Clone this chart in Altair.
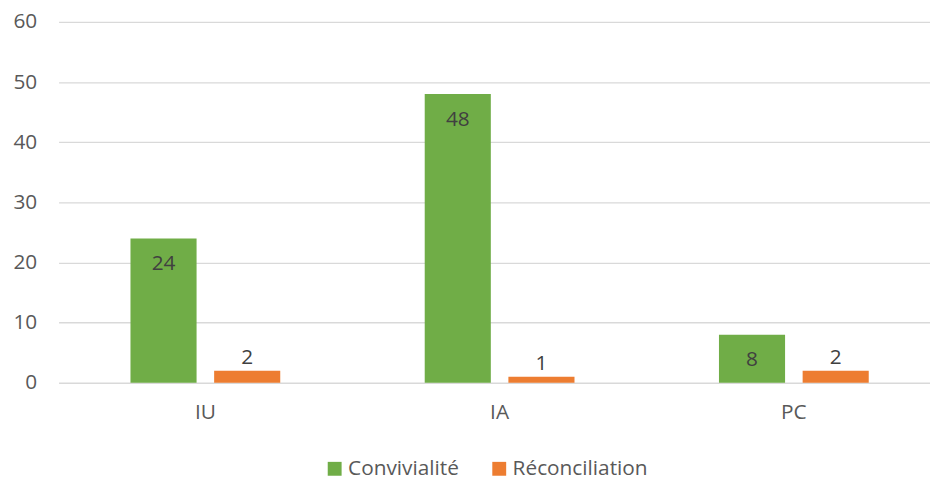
import altair as alt
import pandas as pd

categories = ["IU", "IA", "PC"]
series = ["Convivialité", "Réconciliation"]
convivialite = [24, 48, 8]
reconciliation = [2, 1, 2]
y_ticks = [0, 10, 20, 30, 40, 50, 60]
colors = ["#70AD47", "#ED7D31"]

rows = []
for c, v in zip(categories, convivialite):
    rows.append({"cat": c, "serie": series[0], "val": v})
for c, v in zip(categories, reconciliation):
    rows.append({"cat": c, "serie": series[1], "val": v})
df = pd.DataFrame(rows)

FONT = "Open Sans"
FS = 21

x = alt.X("cat:N", sort=categories, title=None,
          scale=alt.Scale(paddingInner=0.491, paddingOuter=0.2263, align=0.54),
          axis=alt.Axis(labelAngle=0, domain=False, ticks=False, labelPadding=19,
                        labelFontSize=FS, labelColor="#595959", labelFont=FONT, grid=False))
xo = alt.XOffset("serie:N", sort=series, scale=alt.Scale(paddingInner=0.21, paddingOuter=0))
y = alt.Y("val:Q", title=None,
          scale=alt.Scale(domain=[0, 60], nice=False),
          axis=alt.Axis(values=y_ticks, domain=False, ticks=False, labelPadding=22,
                        labelFontSize=FS, labelColor="#595959", labelFont=FONT,
                        gridColor="#D9D9D9", gridWidth=1.4))
color = alt.Color("serie:N", sort=series, title=None,
                  scale=alt.Scale(domain=series, range=colors),
                  legend=alt.Legend(orient="none", direction="horizontal", legendX=268, legendY=440,
                                    symbolType="square", symbolSize=196, symbolStrokeWidth=0,
                                    labelFontSize=FS, labelColor="#595959", labelFont=FONT,
                                    labelOffset=3, columnPadding=30, padding=0, symbolOffset=0))

base = alt.Chart(df)
bars = base.mark_bar().encode(x=x, xOffset=xo, y=y, color=color)
lab_in = base.transform_filter(alt.datum.serie == series[0]).mark_text(
    baseline="middle", dy=26, fontSize=FS, color="#404040", font=FONT
).encode(x=x, xOffset=xo, y=y, text="val:Q")
lab_out = base.transform_filter(alt.datum.serie == series[1]).mark_text(
    baseline="middle", dy=-13, fontSize=FS, color="#404040", font=FONT
).encode(x=x, xOffset=xo, y=y, text="val:Q")

chart = alt.layer(bars, lab_in, lab_out).properties(
    width=879, height=364,
    autosize=alt.AutoSizeParams(type="none"),
    padding={"left": 51, "top": 12, "right": 0, "bottom": 96},
    background="white",
).configure_view(stroke=None)

chart.save("out.html", embed_options={"renderer": "svg", "actions": False})
